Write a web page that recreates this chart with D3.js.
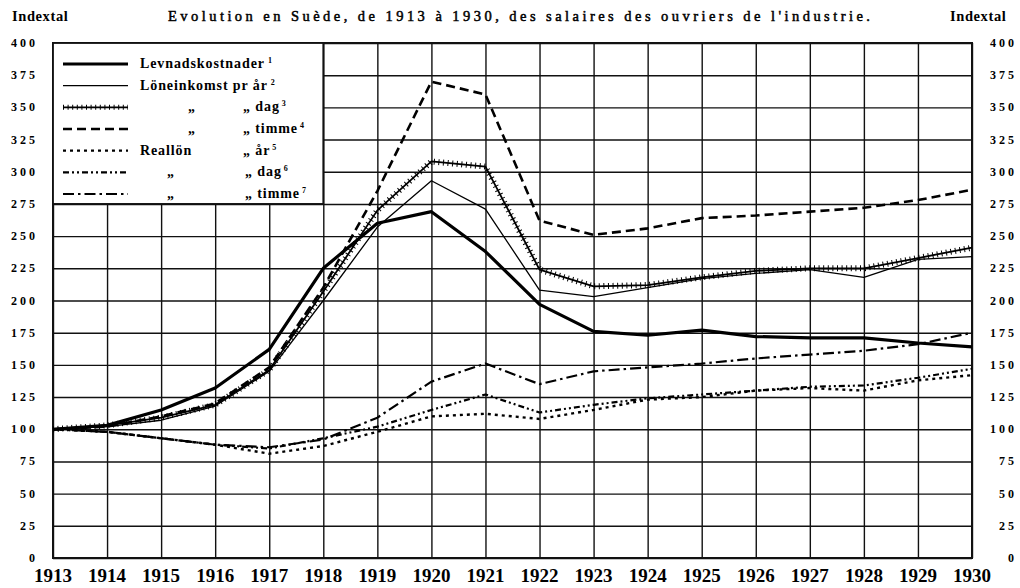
<!DOCTYPE html>
<html>
<head>
<meta charset="utf-8">
<script src="https://cdn.jsdelivr.net/npm/d3@7"></script>
<style>
  body { margin: 0; background: #fff; }
  svg { display: block; font-family: "Liberation Serif", "DejaVu Serif", serif; }
</style>
</head>
<body>
<svg id="chart" width="1020" height="588"></svg>
<script>
// data (index, 1913 = 100)
var years = d3.range(1913, 1931);
var yTicks = d3.range(0, 401, 25);
var levnad    = [100,103,115,132,162,225,260,269,238,197,176,173,177,172,171,171,167,164];
var lonAr     = [100,102,107,118,145,200,257,293,271,208,203,210,217,221,224,218,232,234];
var lonDag    = [100,103,109,119,146,207,270,308,304,224,211,212,218,223,225,225,233,241];
var lonTimme  = [100,102,110,120,148,210,285,370,360,262,251,256,264,266,269,272,278,286];
var realAr    = [100,98,93,88,81,87,98,110,112,108,115,123,125,130,132,130,138,142];
var realDag   = [100,98,93,88,85,93,102,115,127,113,119,124,127,130,133,134,140,147];
var realTimme = [100,98,93,88,86,92,109,137,151,135,145,148,151,155,158,161,166,175];

var title = "Evolution en Suède, de 1913 à 1930, des salaires des ouvriers de l'industrie.";
var axisTitle = "Indextal";

var svg = d3.select("#chart");
var x = d3.scaleLinear().domain([1913, 1930]).range([53, 972]);
var y = d3.scaleLinear().domain([0, 400]).range([558, 43]);

// grid
svg.append("g")
  .attr("transform", "translate(0,558)")
  .call(d3.axisBottom(x).tickValues(years).tickSize(-(558 - 43)).tickFormat(""))
  .call(g => g.select(".domain").remove())
  .selectAll("line").attr("stroke", "#111").attr("stroke-width", 1.4);

svg.append("g")
  .attr("transform", "translate(53,0)")
  .call(d3.axisLeft(y).tickValues(yTicks).tickSize(-(972 - 53)).tickFormat(""))
  .call(g => g.select(".domain").remove())
  .selectAll("line").attr("stroke", "#111").attr("stroke-width", 1.4);

svg.append("rect")
  .attr("x", x(1913)).attr("y", y(400))
  .attr("width", x(1930) - x(1913)).attr("height", y(0) - y(400))
  .attr("fill", "none").attr("stroke", "#111").attr("stroke-width", 2);

// tick labels
svg.append("g").selectAll("text").data(yTicks).enter().append("text")
  .attr("x", 38).attr("y", d => y(d) + 4)
  .attr("text-anchor", "end")
  .attr("font-size", 12).attr("font-weight", "bold").attr("letter-spacing", 3)
  .text(d => d);

svg.append("g").selectAll("text").data(yTicks).enter().append("text")
  .attr("x", 1017).attr("y", d => y(d) + 4)
  .attr("text-anchor", "end")
  .attr("font-size", 12).attr("font-weight", "bold").attr("letter-spacing", 3)
  .text(d => d);

svg.append("g").selectAll("text").data(years).enter().append("text")
  .attr("x", d => x(d)).attr("y", 582)
  .attr("text-anchor", "middle")
  .attr("font-size", 19).attr("font-weight", "bold")
  .text(d => d);

// titles
svg.append("text").attr("x", 12).attr("y", 21)
  .attr("font-size", 14.5).attr("font-weight", "bold").attr("letter-spacing", 0.6)
  .text(axisTitle);
svg.append("text").attr("x", 950).attr("y", 21)
  .attr("font-size", 14.5).attr("font-weight", "bold").attr("letter-spacing", 0.6)
  .text(axisTitle);
svg.append("text").attr("x", 168).attr("y", 21)
  .attr("font-size", 14.5).attr("stroke", "#000").attr("stroke-width", 0.5)
  .attr("textLength", 702).attr("lengthAdjust", "spacing")
  .text(title);

// series
var line = d3.line().x((d, i) => x(years[i])).y(d => y(d));

var styles = [
  { data: levnad,    width: 3.2, dash: null },
  { data: lonAr,     width: 1.3, dash: null },
  { data: lonDag,    width: 1.8, dash: null, cross: true },
  { data: lonTimme,  width: 2.6, dash: "9,5" },
  { data: realAr,    width: 2.4, dash: "3,4" },
  { data: realDag,   width: 2.2, dash: "6,3,2,3,2,3" },
  { data: realTimme, width: 2.2, dash: "11,4,2.5,4" }
];

var series = svg.append("g").attr("fill", "none").attr("stroke", "#000");
styles.forEach(function (s) {
  series.append("path").attr("d", line(s.data))
    .attr("stroke-width", s.width)
    .attr("stroke-dasharray", s.dash)
    .attr("stroke-linejoin", "round");
  if (s.cross) {
    series.append("path").attr("d", line(s.data))
      .attr("stroke-width", 6).attr("stroke-dasharray", "1,3.6");
  }
});

// legend
var legend = svg.append("g");
legend.append("rect")
  .attr("x", x(1913)).attr("y", y(400))
  .attr("width", x(1918) - x(1913)).attr("height", y(275) - y(400))
  .attr("fill", "#fff").attr("stroke", "#111").attr("stroke-width", 1.8);

// [main text, text x, ditto mark x (or null), ditto text, footnote]
var legendRows = [
  ["Levnadskostnader", 140, null, "", "1"],
  ["Löneinkomst pr år", 140, null, "", "2"],
  ["„", 188, 243, "dag", "3"],
  ["„", 188, 243, "timme", "4"],
  ["Reallön", 140, 243, "år", "5"],
  ["„", 167, 245, "dag", "6"],
  ["„", 167, 245, "timme", "7"]
];
var rowY = d3.scaleLinear().domain([0, 6]).range([64, 194]);

legendRows.forEach(function (r, i) {
  var yy = rowY(i);
  var s = styles[i];
  legend.append("path")
    .attr("d", "M63," + yy + "H128")
    .attr("fill", "none").attr("stroke", "#000")
    .attr("stroke-width", s.width).attr("stroke-dasharray", s.dash);
  if (s.cross) {
    legend.append("path").attr("d", "M63," + yy + "H128")
      .attr("stroke", "#000").attr("stroke-width", 5).attr("stroke-dasharray", "1,3.6");
  }
  var t = legend.append("text")
    .attr("x", r[1]).attr("y", yy + 4)
    .attr("font-size", 14).attr("font-weight", "bold").attr("letter-spacing", 0.9);
  t.append("tspan").text(r[0]);
  if (r[2] === null) {
    t.append("tspan").attr("font-size", 8).attr("dy", -5).attr("dx", 3).text(r[4]);
  } else {
    var t2 = legend.append("text")
      .attr("x", r[2]).attr("y", yy + 4)
      .attr("font-size", 14).attr("font-weight", "bold").attr("letter-spacing", 0.9);
    t2.append("tspan").text("„ ");
    t2.append("tspan").text(r[3]);
    t2.append("tspan").attr("font-size", 8).attr("dy", -5).attr("dx", 2).text(r[4]);
  }
});
</script>
</body>
</html>
